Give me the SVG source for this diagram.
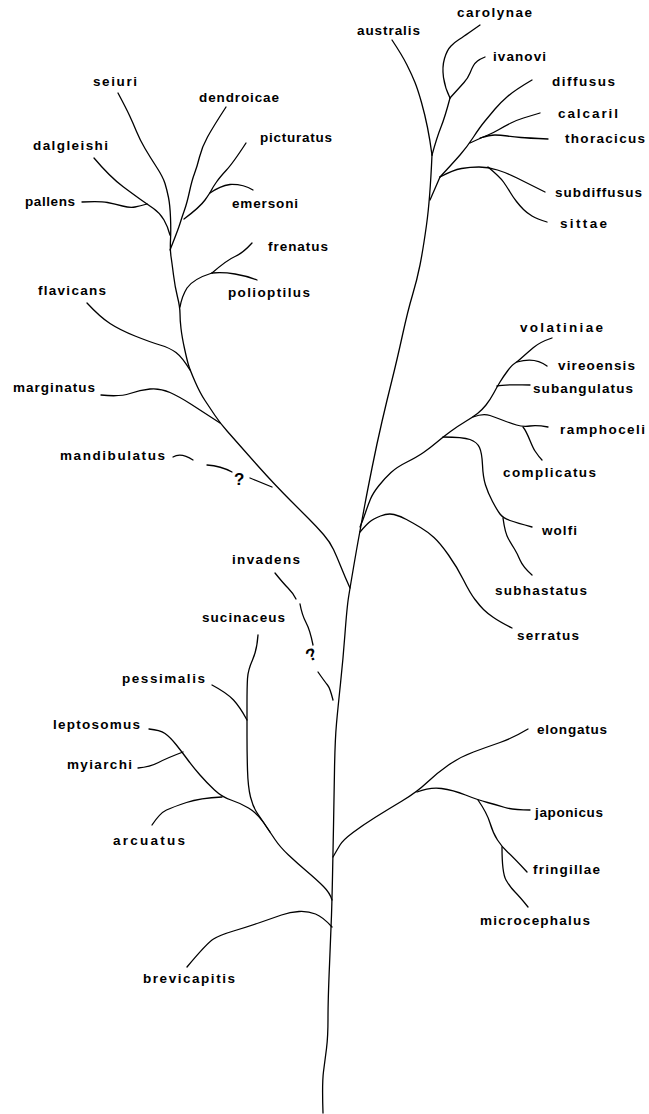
<svg xmlns="http://www.w3.org/2000/svg" width="649" height="1114" viewBox="0 0 649 1114">
<style>
.c path{fill:none;stroke:#000;stroke-width:1.3;stroke-linejoin:round;stroke-linecap:round}
.n text{font-family:"Liberation Sans",Arial,sans-serif;font-weight:bold;font-size:13.5px;fill:#000}
.q{font-family:"Liberation Sans",Arial,sans-serif;font-weight:bold;font-size:17px;fill:#000}
</style>
<rect width="649" height="1114" fill="#fff"/>
<g id="connectors" class="c">
<path d="M323,1113 Q322,1083 323.5,1071.5 Q325,1060 326.5,1048.5 Q328,1037 328,1018.5 Q328,1000 329.5,965 Q331,930 331.5,915 Q332,900 332.5,876.5 Q333,853 333.5,826.5 Q334,800 334.5,770 Q335,740 336.5,723.5 Q338,707 340.5,683.5 Q343,660 345,633.5 Q347,607 348.5,597.5 Q350,588 353.5,567.5 Q357,547 359.5,533.5 Q362,520 364.5,506.5 Q367,493 372,468 Q377,443 382,421.5 Q387,400 392,380 Q397,360 402.5,335 Q408,310 412.5,295 Q417,280 420,265 Q423,250 426.5,225 Q430,200 432,155"/>
<path d="M432,155 Q430,140 427.5,127.5 Q425,115 421.5,102.5 Q418,90 415,82.5 Q412,75 407,65 Q402,55 392,40"/>
<path d="M432,155 Q437,137 441,127 Q445,117 450,98"/>
<path d="M450,98 Q445,88 443.5,77.5 Q442,67 444.5,58.5 Q447,50 451,46 Q455,42 459,39.5 Q463,37 480,25"/>
<path d="M450,98 Q460,87 464,82.5 Q468,78 470,73 Q472,68 473.5,65.5 Q475,63 477.5,61 Q480,59 485,57"/>
<path d="M430,200 L440,177"/>
<path d="M440,177 Q453,163 460,155 Q467,147 473.5,137 Q480,127 485,121 Q490,115 495,109 Q500,103 507.5,96.5 Q515,90 532,80"/>
<path d="M470,143 Q483,137 488,135 Q493,133 499,129.5 Q505,126 511,123 Q517,120 523.5,118 Q530,116 540,113"/>
<path d="M480,138 Q490,135 495,135 Q500,135 507.5,136 Q515,137 521,137.5 Q527,138 548,139"/>
<path d="M440,177 Q453,170 461.5,168.5 Q470,167 479,167 Q488,167 497.5,170 Q507,173 517,178 Q527,183 545,192"/>
<path d="M488,167 Q500,177 503.5,182 Q507,187 510,192 Q513,197 516.5,201.5 Q520,206 523.5,209.5 Q527,213 532,216 Q537,219 547,222"/>
<path d="M360,527 Q363,520 365.5,512.5 Q368,505 370.5,499 Q373,493 379,485.5 Q385,478 391,472.5 Q397,467 407,462 Q417,457 423.5,452.5 Q430,448 436.5,442.5 Q443,437 450.5,431.5 Q458,426 465.5,421.5 Q473,417 477.5,413.5 Q482,410 486,405 Q490,400 493.5,393.5 Q497,387 500,382 Q503,377 507.5,371 Q512,365 514.5,363.5 Q517,362 522,357.5 Q527,353 533.5,347.5 Q540,342 552,338"/>
<path d="M497,386 C505,384 520,385 530,385"/>
<path d="M517,362 C527,359 538,359 547,366"/>
<path d="M473,417 Q483,413 490,415.5 Q497,418 503.5,420.5 Q510,423 516.5,425 Q523,427 530,426 Q537,425 548,427"/>
<path d="M523,427 C528,433 531,445 535,451 S540,458 542,460"/>
<path d="M443,437 Q463,437 470,439.5 Q477,442 479.5,447.5 Q482,453 482.5,465 Q483,477 485.5,485 Q488,493 492.5,501.5 Q497,510 500,514 Q503,518 510,520.5 Q517,523 532,527"/>
<path d="M503,518 Q505,533 508.5,539 Q512,545 514.5,549 Q517,553 520,560 Q523,567 532,575"/>
<path d="M360,532 Q366,525 369.5,522 Q373,519 380.5,516 Q388,513 394,514.5 Q400,516 406.5,519.5 Q413,523 420.5,527.5 Q428,532 434,537.5 Q440,543 448.5,555 Q457,567 463.5,580 Q470,593 475,599.5 Q480,606 483.5,609.5 Q487,613 493.5,617.5 Q500,622 512,628"/>
<path d="M350,588 Q345,577 341,567 Q337,557 333.5,549.5 Q330,542 323.5,534.5 Q317,527 308.5,518.5 Q300,510 291.5,501.5 Q283,493 274.5,484 Q266,475 258,466 Q250,457 242.5,448.5 Q235,440 227.5,431.5 Q220,423 215,415.5 Q210,408 205,400.5 Q200,393 195,381.5 Q190,370 188.5,365 Q187,360 184.5,348.5 Q182,337 181,328.5 Q180,320 180,313.5 Q180,307 177.5,297 Q175,287 173.5,275 Q172,263 171,256.5 Q170,250 170.5,240 Q171,230 170.5,217.5 Q170,205 168.5,197.5 Q167,190 165,183.5 Q163,177 156.5,167 Q150,157 145,148.5 Q140,140 136.5,131.5 Q133,123 129.5,115.5 Q126,108 118,93"/>
<path d="M226,107 Q213,127 207.5,137 Q202,147 199.5,157 Q197,167 194.5,173.5 Q192,180 189.5,191.5 Q187,203 184.5,210 Q182,217 180,223.5 Q178,230 170,250"/>
<path d="M246,143 Q233,163 226.5,170 Q220,177 216.5,182 Q213,187 211.5,190 Q210,193 205,200 Q200,207 184,219"/>
<path d="M210,193 Q220,186 230,184.5 Q243,184 253,190"/>
<path d="M94,158 Q110,177 123.5,187 Q137,197 142,200.5 Q147,204 153.5,208.5 Q160,213 164,220 Q168,227 170,235"/>
<path d="M82,202 Q100,201 107.5,202.5 Q115,204 122.5,206 Q130,208 135,207 Q140,206 147,204"/>
<path d="M252,243 Q243,253 235,256.5 Q227,260 212,273"/>
<path d="M212,273 Q223,272 235,274 Q247,276 257,280"/>
<path d="M212,273 Q193,279 187,288 Q182,296 180,307"/>
<path d="M87,303 Q100,317 110,323.5 Q120,330 135,336 Q150,342 160,345 Q170,348 176,352.5 Q182,357 190,370"/>
<path d="M101,395 Q120,397 130,393.5 Q140,390 150,389 Q160,388 170,392.5 Q180,397 191.5,404.5 Q203,412 220,423"/>
<path d="M173,457 Q181,452 193,460"/>
<path d="M207,465 Q221,466 232,472"/>
<path d="M250,478 Q262,483 272,487"/>
<path d="M275,573 Q283,583 288,588 Q293,593 296,599"/>
<path d="M300,604 Q302,615 306,622.5 Q310,630 313,645"/>
<path d="M318,672 Q325,682 327.5,685 Q330,688 333,700"/>
<path d="M258,635 Q257,650 252.5,660 Q248,670 247.5,678.5 Q247,687 247,703.5 Q247,720 247,736.5 Q247,753 247.5,770 Q248,787 250.5,797 Q253,807 257.5,813.5 Q262,820 270,832"/>
<path d="M212,685 Q227,693 233.5,700 Q240,707 247,720"/>
<path d="M149,729 Q160,730 165,733.5 Q170,737 176,744.5 Q182,752 187.5,759.5 Q193,767 200,775 Q207,783 214.5,790 Q222,797 231,800 Q240,803 248.5,808 Q257,813 263.5,822.5 Q270,832 275,839.5 Q280,847 288.5,855 Q297,863 307,871.5 Q317,880 323.5,886.5 Q330,893 332,900"/>
<path d="M138,768 Q150,767 158.5,762.5 Q167,758 183,752"/>
<path d="M152,825 Q160,813 166.5,810 Q173,807 186.5,802.5 Q200,798 222,797"/>
<path d="M333,857 Q337,850 340,845 Q343,840 353,832.5 Q363,825 375,817.5 Q387,810 402,801 Q417,792 427,782.5 Q437,773 448.5,765 Q460,757 473.5,752 Q487,747 500,742.5 Q513,738 528,729"/>
<path d="M417,792 Q430,787 441.5,788.5 Q453,790 465.5,795 Q478,800 487.5,802.5 Q497,805 505,807.5 Q513,810 530,810"/>
<path d="M478,800 Q487,813 490,823 Q493,833 497.5,840 Q502,847 507.5,852 Q513,857 527,872"/>
<path d="M502,847 Q502,873 506,880 Q510,887 515,892 Q520,897 528,907"/>
<path d="M332,927 Q323,917 315.5,914 Q308,911 299,911.5 Q290,912 281.5,915 Q273,918 260,922.5 Q247,927 233.5,931 Q220,935 213.5,939 Q207,943 187,967"/>
</g>
<text class="q" x="234" y="485">?</text>
<text class="q" x="0" y="0" font-size="15" transform="translate(309,662) rotate(-25)">?</text>
<g class="n">
<g id="australis"><text x="357" y="35" textLength="63" lengthAdjust="spacing">australis</text></g>
<g id="carolynae"><text x="457" y="17" textLength="75" lengthAdjust="spacing">carolynae</text></g>
<g id="ivanovi"><text x="493" y="61" textLength="53" lengthAdjust="spacing">ivanovi</text></g>
<g id="diffusus"><text x="552" y="86" textLength="63" lengthAdjust="spacing">diffusus</text></g>
<g id="calcaril"><text x="558" y="118" textLength="60" lengthAdjust="spacing">calcaril</text></g>
<g id="thoracicus"><text x="565" y="143" textLength="80" lengthAdjust="spacing">thoracicus</text></g>
<g id="subdiffusus"><text x="555" y="197" textLength="87" lengthAdjust="spacing">subdiffusus</text></g>
<g id="sittae"><text x="560" y="228" textLength="47" lengthAdjust="spacing">sittae</text></g>
<g id="seiuri"><text x="93" y="86" textLength="44" lengthAdjust="spacing">seiuri</text></g>
<g id="dendroicae"><text x="199" y="102" textLength="80" lengthAdjust="spacing">dendroicae</text></g>
<g id="picturatus"><text x="260" y="142" textLength="72" lengthAdjust="spacing">picturatus</text></g>
<g id="dalgleishi"><text x="33" y="150" textLength="75" lengthAdjust="spacing">dalgleishi</text></g>
<g id="pallens"><text x="25" y="206" textLength="50" lengthAdjust="spacing">pallens</text></g>
<g id="emersoni"><text x="232" y="208" textLength="66" lengthAdjust="spacing">emersoni</text></g>
<g id="frenatus"><text x="268" y="251" textLength="60" lengthAdjust="spacing">frenatus</text></g>
<g id="polioptilus"><text x="228" y="297" textLength="82" lengthAdjust="spacing">polioptilus</text></g>
<g id="flavicans"><text x="38" y="295" textLength="68" lengthAdjust="spacing">flavicans</text></g>
<g id="marginatus"><text x="13" y="392" textLength="82" lengthAdjust="spacing">marginatus</text></g>
<g id="mandibulatus"><text x="60" y="460" textLength="105" lengthAdjust="spacing">mandibulatus</text></g>
<g id="volatiniae"><text x="520" y="332" textLength="83" lengthAdjust="spacing">volatiniae</text></g>
<g id="vireoensis"><text x="558" y="370" textLength="77" lengthAdjust="spacing">vireoensis</text></g>
<g id="subangulatus"><text x="533" y="393" textLength="100" lengthAdjust="spacing">subangulatus</text></g>
<g id="ramphoceli"><text x="560" y="434" textLength="85" lengthAdjust="spacing">ramphoceli</text></g>
<g id="complicatus"><text x="503" y="477" textLength="93" lengthAdjust="spacing">complicatus</text></g>
<g id="wolfi"><text x="542" y="535" textLength="35" lengthAdjust="spacing">wolfi</text></g>
<g id="subhastatus"><text x="495" y="595" textLength="92" lengthAdjust="spacing">subhastatus</text></g>
<g id="serratus"><text x="517" y="640" textLength="62" lengthAdjust="spacing">serratus</text></g>
<g id="invadens"><text x="232" y="564" textLength="68" lengthAdjust="spacing">invadens</text></g>
<g id="sucinaceus"><text x="202" y="622" textLength="83" lengthAdjust="spacing">sucinaceus</text></g>
<g id="pessimalis"><text x="122" y="683" textLength="83" lengthAdjust="spacing">pessimalis</text></g>
<g id="leptosomus"><text x="53" y="729" textLength="87" lengthAdjust="spacing">leptosomus</text></g>
<g id="myiarchi"><text x="67" y="769" textLength="65" lengthAdjust="spacing">myiarchi</text></g>
<g id="arcuatus"><text x="113" y="845" textLength="72" lengthAdjust="spacing">arcuatus</text></g>
<g id="elongatus"><text x="537" y="734" textLength="70" lengthAdjust="spacing">elongatus</text></g>
<g id="japonicus"><text x="535" y="817" textLength="68" lengthAdjust="spacing">japonicus</text></g>
<g id="fringillae"><text x="533" y="874" textLength="67" lengthAdjust="spacing">fringillae</text></g>
<g id="microcephalus"><text x="480" y="925" textLength="110" lengthAdjust="spacing">microcephalus</text></g>
<g id="brevicapitis"><text x="143" y="983" textLength="92" lengthAdjust="spacing">brevicapitis</text></g>
</g>
</svg>
